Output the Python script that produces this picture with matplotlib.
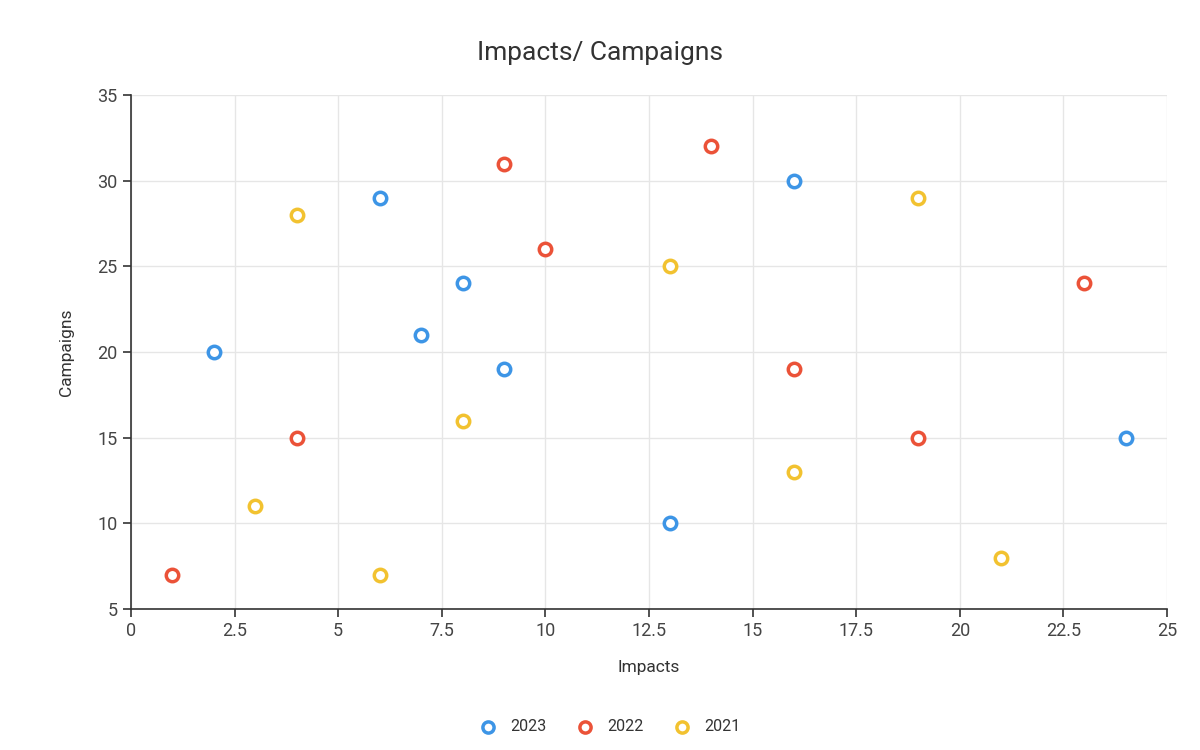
import matplotlib
matplotlib.use("Agg")
import matplotlib.pyplot as plt
from matplotlib.ticker import FuncFormatter

plt.rcParams['font.family'] = ['Roboto', 'DejaVu Sans']

x_2023 = [2, 6, 7, 8, 9, 13, 16, 24]
y_2023 = [20, 29, 21, 24, 19, 10, 30, 15]
x_2022 = [1, 4, 9, 10, 14, 16, 19, 23]
y_2022 = [7, 15, 31, 26, 32, 19, 15, 24]
x_2021 = [3, 4, 6, 8, 13, 16, 19, 21]
y_2021 = [11, 28, 7, 16, 25, 13, 29, 8]

series = [("2023", x_2023, y_2023, "#3d95e6"),
          ("2022", x_2022, y_2022, "#eb5238"),
          ("2021", x_2021, y_2021, "#f2c230")]

x_ticks = [0, 2.5, 5, 7.5, 10, 12.5, 15, 17.5, 20, 22.5, 25]
y_ticks = [5, 10, 15, 20, 25, 30, 35]

fig = plt.figure(figsize=(12, 7.5), dpi=100)
ax = fig.add_axes([0.1092, 0.188, 0.8633, 0.6853])

for name, xs, ys, c in series:
    ax.scatter(xs, ys, s=80, facecolors='white', edgecolors=c, linewidths=2.5,
               label=name, zorder=3)

ax.set_xlim(0, 25)
ax.set_ylim(5, 35)
ax.set_xticks(x_ticks)
ax.set_yticks(y_ticks)
ax.xaxis.set_major_formatter(FuncFormatter(lambda v, p: f"{v:g}"))
ax.grid(True, color='#e6e6e6', linewidth=1, zorder=0)
for s in ['top', 'right']:
    ax.spines[s].set_visible(False)
for s in ['left', 'bottom']:
    ax.spines[s].set_color('#333333')
    ax.spines[s].set_linewidth(1.2)
ax.tick_params(axis='both', colors='#333333', labelcolor='#444444', labelsize=13,
               length=6, width=1.2)
ax.set_xlabel("Impacts", fontsize=12.5, color='#333333', labelpad=14)
ax.set_ylabel("Campaigns", fontsize=12.5, color='#333333', labelpad=17)
fig.suptitle("Impacts/ Campaigns", fontsize=19, color='#333333', y=0.945)

leg = fig.legend(loc='center', bbox_to_anchor=(0.505, 0.031), ncol=3, frameon=False,
                 fontsize=11.5, handletextpad=0.4, columnspacing=1.4, markerscale=0.9)
for t in leg.get_texts():
    t.set_color('#333333')

fig.savefig("out.png", dpi=100, facecolor='white')
